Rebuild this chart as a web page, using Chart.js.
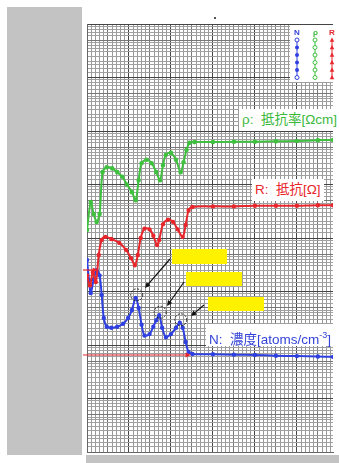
<!DOCTYPE html>
<html>
<head>
<meta charset="utf-8">
<script src="https://cdn.jsdelivr.net/npm/chart.js@4.4.1/dist/chart.umd.min.js"></script>
<style>
  body { margin: 0; background: #fff; width: 339px; height: 463px; overflow: hidden; position: relative;
         font-family: Arial, "Liberation Sans", "Noto Sans CJK JP", sans-serif; }
  #side { position: absolute; left: 7px; top: 7px; width: 75px; height: 448px; background: #c3c3c3; }
  #foot { position: absolute; left: 86px; top: 455px; width: 253px; height: 8px; background: #c3c3c3; }
  #dot { position: absolute; left: 214px; top: 17px; width: 2px; height: 2px; background: #555; }
  canvas { position: absolute; left: 0; top: 0; }
  .lbl { position: absolute; background: #fff; font-size: 13.5px; line-height: 22px; height: 22px;
         white-space: pre; padding: 0 3px; }
  .leg { position: absolute; top: 28px; font-size: 8px; font-weight: bold; }
</style>
</head>
<body>
<div id="side"></div>
<div id="foot"></div>
<div id="dot"></div>
<canvas id="chart" width="339" height="463"></canvas>
<div class="lbl" style="left:239px;top:109px;right:0;color:#3cb83c">ρ:  抵抗率[Ωcm]</div>
<div class="lbl" style="left:252px;top:179px;color:#e8262c">R:  抵抗[Ω]</div>
<div class="lbl" style="left:206px;top:324px;right:0;color:#3443d6">N:  濃度[atoms/cm<sup style="font-size:9px">-3</sup>]</div>
<span class="leg" style="left:294px;color:#3443d6">N</span>
<span class="leg" style="left:313px;color:#3cb83c">ρ</span>
<span class="leg" style="left:329px;color:#e8262c">R</span>
<script>
// depth [um] and values (log axis 1e13 .. 1e21)
const depthRho = [0, 0.09, 0.16, 0.23, 0.30, 0.37, 0.47, 0.60, 0.72, 0.84, 0.95, 1.07, 1.16, 1.23, 1.30, 1.42, 1.54, 1.65, 1.74, 1.81, 1.88, 2.00, 2.12, 2.23, 2.30, 2.37, 2.44, 2.56, 3.0, 3.5, 4.0, 4.5, 5.0, 5.5, 5.86];
const rho = [1.41e17, 4.7e17, 2.8e17, 2.0e17, 2.8e17, 1.7e18, 2.1e18, 2.0e18, 1.7e18, 1.4e18, 1.0e18, 7.2e17, 5.1e17, 1.2e18, 2.5e18, 2.9e18, 2.5e18, 1.7e18, 1.2e18, 2.3e18, 3.6e18, 3.9e18, 2.9e18, 1.7e18, 2.6e18, 4.4e18, 6.0e18, 6.2e18, 6.2e18, 6.3e18, 6.3e18, 6.4e18, 6.5e18, 6.7e18, 6.8e18];

const depthR = [0, 0.07, 0.14, 0.21, 0.28, 0.35, 0.44, 0.58, 0.77, 0.93, 1.05, 1.14, 1.21, 1.28, 1.37, 1.49, 1.58, 1.67, 1.72, 1.81, 1.93, 2.05, 2.16, 2.28, 2.35, 2.42, 2.51, 3.0, 3.5, 4.0, 4.5, 5.0, 5.5, 5.86];
const resist = [2.0e16, 1.3e16, 2.3e16, 1.5e16, 4.8e16, 9.2e16, 1.05e17, 9.6e16, 8.1e16, 6.0e16, 4.2e16, 3.1e16, 4.8e16, 1.0e17, 1.5e17, 1.45e17, 1.1e17, 7.4e16, 9.2e16, 1.8e17, 2.2e17, 2.0e17, 1.45e17, 1.05e17, 1.75e17, 3.3e17, 3.8e17, 3.9e17, 3.9e17, 4.0e17, 4.0e17, 4.0e17, 4.1e17, 4.1e17];

const depthN = [0, 0.05, 0.09, 0.16, 0.23, 0.30, 0.35, 0.40, 0.47, 0.58, 0.72, 0.86, 0.98, 1.07, 1.16, 1.23, 1.30, 1.37, 1.49, 1.58, 1.65, 1.72, 1.79, 1.88, 2.00, 2.12, 2.21, 2.28, 2.35, 2.42, 2.51, 3.0, 3.5, 4.0, 4.5, 5.0, 5.5, 5.86];
const conc = [3.9e16, 1.6e16, 9.4e15, 1.7e16, 2.5e16, 2.0e16, 8.6e15, 3.2e15, 2.2e15, 2.1e15, 2.2e15, 2.5e15, 3.2e15, 4.5e15, 7.6e15, 4.9e15, 2.4e15, 1.5e15, 1.6e15, 2.2e15, 2.9e15, 3.6e15, 2.1e15, 1.4e15, 1.6e15, 2.1e15, 2.6e15, 2.1e15, 1.14e15, 7.4e14, 6.8e14, 6.7e14, 6.6e14, 6.5e14, 6.3e14, 6.2e14, 6.1e14, 6.0e14];

// blue peaks marked with dashed circles
const peakDepth = [1.16, 1.72, 2.21];
const peakConc = [7.6e15, 3.6e15, 2.6e15];

// log paper subdivisions inside one decade
const logSteps = [1, 1.25, 1.5, 1.75, 2, 2.5, 3, 3.5, 4, 4.5, 5, 6, 7, 8, 9];

const xMin = 0, xMax = 5.86;
const yMin = 1e13, yMax = 1e21;

const colN = '#2f40e0', colRho = '#3fc03f', colR = '#e8262c';

function pts(xs, ys) {
  return xs.map((x, i) => ({ x: x, y: ys[i] }));
}

function arrow(ctx, x1, y1, x2, y2, color, w) {
  const a = Math.atan2(y2 - y1, x2 - x1);
  ctx.strokeStyle = color;
  ctx.fillStyle = color;
  ctx.lineWidth = w;
  ctx.beginPath();
  ctx.moveTo(x1, y1);
  ctx.lineTo(x2 - 4 * Math.cos(a), y2 - 4 * Math.sin(a));
  ctx.stroke();
  ctx.beginPath();
  ctx.moveTo(x2, y2);
  ctx.lineTo(x2 - 6 * Math.cos(a - 0.45), y2 - 6 * Math.sin(a - 0.45));
  ctx.lineTo(x2 - 6 * Math.cos(a + 0.45), y2 - 6 * Math.sin(a + 0.45));
  ctx.closePath();
  ctx.fill();
}

const decor = {
  id: 'decor',
  afterDatasetsDraw(chart) {
    const ctx = chart.ctx;
    const xs = chart.scales.x, ys = chart.scales.y;
    ctx.save();
    // legend box
    ctx.fillStyle = '#fff';
    ctx.fillRect(290, 25, 49, 57);
    const legCols = [[297, colN, 'c'], [315, colRho, 's'], [332, colR, 't']];
    legCols.forEach(([lx, c, shape]) => {
      ctx.strokeStyle = c;
      ctx.fillStyle = c;
      ctx.lineWidth = 1;
      ctx.beginPath(); ctx.moveTo(lx, 39); ctx.lineTo(lx, 78); ctx.stroke();
      for (let k = 0; k < 6; k++) {
        const ly = 40 + k * 7.5;
        ctx.beginPath();
        if (shape === 't') {
          ctx.moveTo(lx, ly - 2.5); ctx.lineTo(lx + 2.3, ly + 1.8); ctx.lineTo(lx - 2.3, ly + 1.8); ctx.closePath();
          ctx.fill();
        } else {
          ctx.arc(lx, ly, 2, 0, Math.PI * 2);
          if (shape === 'c' && k > 0 && k < 5) ctx.fill();
          else { ctx.fillStyle = '#fff'; ctx.fill(); ctx.fillStyle = c; ctx.stroke(); }
        }
      }
    });
    // yellow boxes
    ctx.fillStyle = '#fff200';
    ctx.fillRect(172, 249, 55, 15);
    ctx.fillRect(186, 272, 56, 14);
    ctx.fillRect(208, 297, 56, 14);
    // dashed circles on N peaks
    ctx.strokeStyle = '#222';
    ctx.lineWidth = 1;
    ctx.setLineDash([2, 1.5]);
    peakDepth.forEach((d, i) => {
      ctx.beginPath();
      ctx.arc(xs.getPixelForValue(d) + 1, ys.getPixelForValue(peakConc[i]) - 3, 6, 0, Math.PI * 2);
      ctx.stroke();
    });
    ctx.setLineDash([]);
    // black arrows
    arrow(ctx, 170, 259, 145, 288, '#111', 1.2);
    arrow(ctx, 184, 282, 167, 306, '#111', 1.2);
    arrow(ctx, 204, 305, 191, 316, '#111', 1.2);
    // red arrows
    arrow(ctx, 83, 355, 191, 355, '#e8262c', 1.2);
    arrow(ctx, 83, 270, 98, 270, '#e8262c', 1.2);
    ctx.restore();
  }
};

function gridColor(c) {
  const v = c.tick ? c.tick.value : 0;
  if (c.scale.axis === 'x') {
    const r = Math.round(v * 10);
    if (r % 10 === 0) return '#444';
    if (r % 5 === 0) return '#777';
    return '#999';
  }
  const e = Math.log10(v);
  if (Math.abs(e - Math.round(e)) < 1e-6) return '#444';
  if (Math.abs(v / Math.pow(10, Math.floor(e + 1e-9)) - 5) < 1e-6) return '#777';
  return '#a0a0a0';
}

new Chart(document.getElementById('chart'), {
  type: 'line',
  data: {
    datasets: [
      { label: 'ρ', data: pts(depthRho, rho), borderColor: colRho, backgroundColor: colRho,
        borderWidth: 2, pointRadius: 1.3, tension: 0.3 },
      { label: 'R', data: pts(depthR, resist), borderColor: colR, backgroundColor: colR,
        borderWidth: 2, pointRadius: 1.2, tension: 0.3 },
      { label: 'N', data: pts(depthN, conc), borderColor: colN, backgroundColor: colN,
        borderWidth: 2, pointRadius: 1.2, tension: 0.3 }
    ]
  },
  options: {
    responsive: false,
    animation: false,
    layout: { padding: { left: 87, top: 24, right: 0, bottom: 11 } },
    plugins: { legend: { display: false }, tooltip: { enabled: false } },
    scales: {
      x: {
        type: 'linear', min: xMin, max: xMax,
        afterBuildTicks(s) {
          const t = [];
          for (let i = 0; i <= 58; i++) t.push({ value: i / 10 });
          s.ticks = t;
        },
        ticks: { display: false },
        grid: { color: gridColor, drawTicks: false, lineWidth: 1 },
        border: { color: '#666' }
      },
      y: {
        type: 'logarithmic', min: yMin, max: yMax,
        afterBuildTicks(s) {
          const t = [];
          for (let e = 13; e < 21; e++) {
            logSteps.forEach(m => t.push({ value: m * Math.pow(10, e) }));
          }
          t.push({ value: 1e21 });
          s.ticks = t;
        },
        ticks: { display: false },
        grid: { color: gridColor, drawTicks: false, lineWidth: 1 },
        border: { color: '#666' }
      }
    }
  },
  plugins: [decor]
});
</script>
</body>
</html>
